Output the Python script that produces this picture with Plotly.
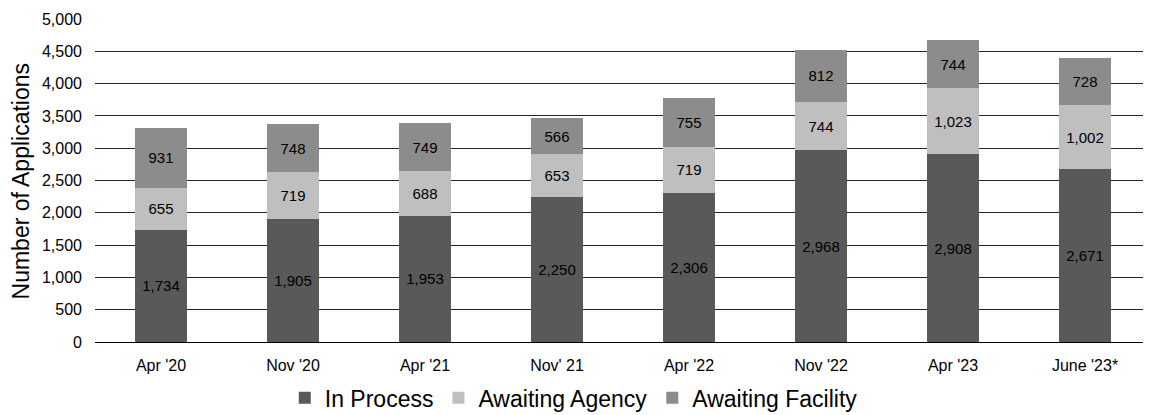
import plotly.graph_objects as go

categories = ["Apr '20", "Nov '20", "Apr '21", "Nov' 21", "Apr '22", "Nov '22", "Apr '23", "June '23*"]
in_process = [1734, 1905, 1953, 2250, 2306, 2968, 2908, 2671]
awaiting_agency = [655, 719, 688, 653, 719, 744, 1023, 1002]
awaiting_facility = [931, 748, 749, 566, 755, 812, 744, 728]
y_title = "Number of Applications"

series = [
    ("In Process", in_process, "#595959"),
    ("Awaiting Agency", awaiting_agency, "#BFBFBF"),
    ("Awaiting Facility", awaiting_facility, "#8C8C8C"),
]

FONT = "Liberation Sans, Arial, sans-serif"

fig = go.Figure()
for name, vals, color in series:
    fig.add_trace(go.Bar(
        x=categories, y=vals, name=name,
        marker=dict(color=color, line=dict(width=0)),
        texttemplate="%{y:,}", textposition="inside", insidetextanchor="middle",
        textfont=dict(color="black", size=15, family=FONT),
        textangle=0,
    ))

# page body has an 8px margin, so the figure is sized/offset to compensate
fig.update_layout(
    barmode="stack",
    bargap=0.6,
    width=1143, height=407,
    margin=dict(l=87, r=0, t=11, b=73, autoexpand=False),
    plot_bgcolor="white", paper_bgcolor="white",
    font=dict(family=FONT, color="black"),
    legend=dict(orientation="h", xref="container", x=0.495, xanchor="center",
                yref="paper", y=-0.173, yanchor="middle",
                font=dict(size=23), traceorder="normal", itemwidth=30,
                tracegroupgap=0),
    yaxis=dict(range=[0, 5000], dtick=500, tickformat=",", showgrid=True,
               gridcolor="#262626", gridwidth=1, zeroline=True, zerolinecolor="black",
               zerolinewidth=1, tickfont=dict(size=16),
               ticks="", ticklabelstandoff=12, automargin=False),
    xaxis=dict(tickfont=dict(size=16), showline=False, ticks="", automargin=False,
               ticklabelstandoff=12),
    annotations=[dict(text=y_title, textangle=-90, xref="paper", yref="paper",
                      x=-0.0701, y=0.5, xanchor="center", yanchor="middle",
                      showarrow=False, font=dict(size=23, family=FONT, color="black"))],
)

fig.write_html("out.html")
